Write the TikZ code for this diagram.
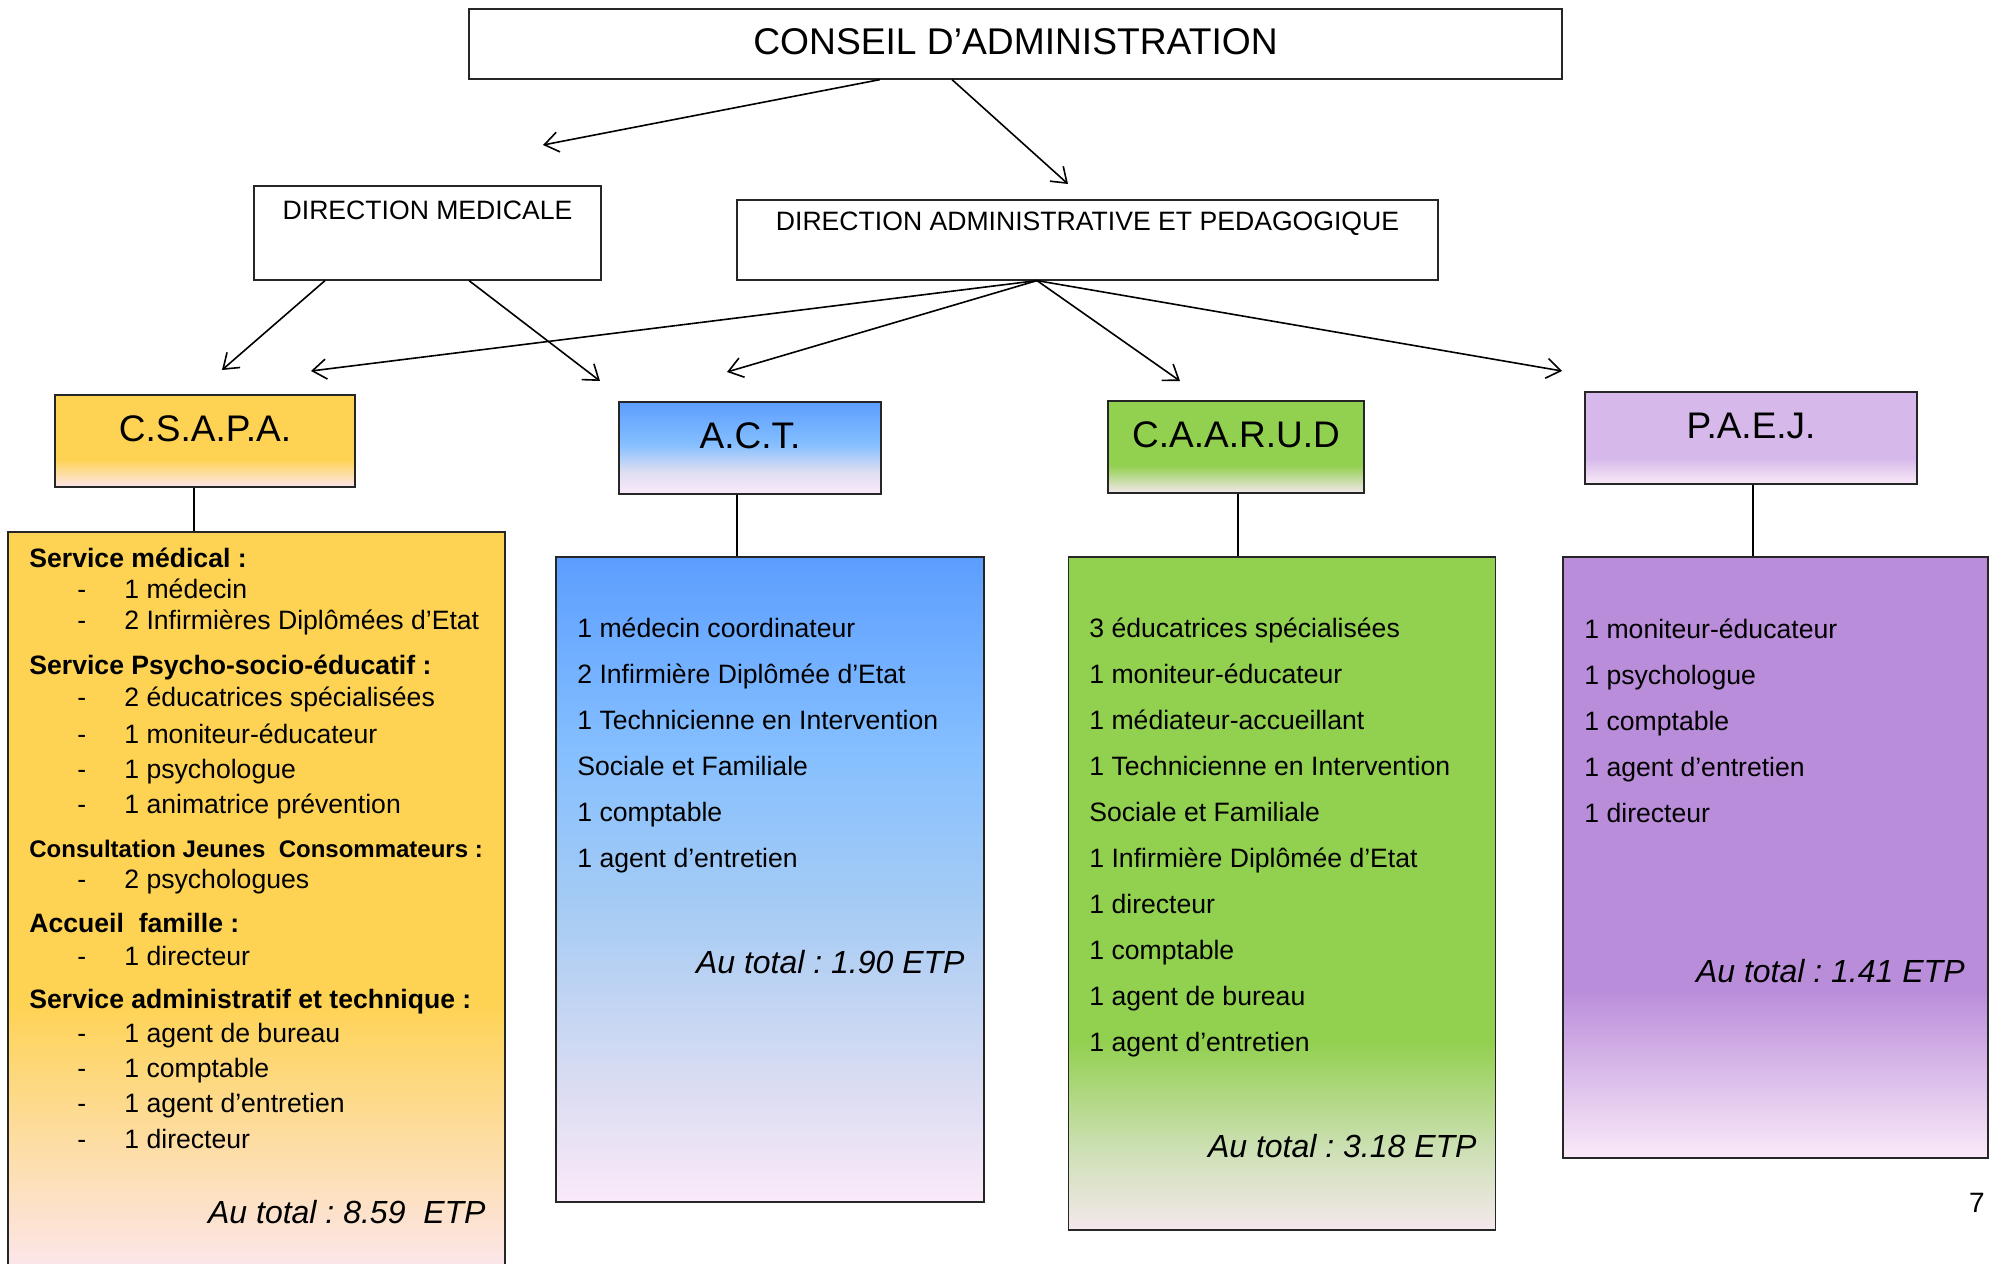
\documentclass[tikz,border=0pt]{standalone}
\usepackage{fontspec}
\setmainfont{Liberation Sans}
\usetikzlibrary{arrows.meta}
\frenchspacing

\definecolor{gold}{RGB}{254,211,84}
\definecolor{goldpink}{RGB}{252,230,236}
\definecolor{actblue}{RGB}{92,158,255}
\definecolor{actlight}{RGB}{133,191,255}
\definecolor{actmid}{RGB}{165,203,244}
\definecolor{actlav}{RGB}{222,222,242}
\definecolor{actpink}{RGB}{250,233,249}
\definecolor{caagreen}{RGB}{146,208,80}
\definecolor{caasoft}{RGB}{205,224,180}
\definecolor{caapale}{RGB}{244,232,236}
\definecolor{paejdark}{RGB}{186,141,219}
\definecolor{paejlight}{RGB}{214,185,234}
\definecolor{paejpale}{RGB}{250,234,248}

% fades (bottom = 25bp, top = 75bp)
\pgfdeclareverticalshading{csapahead}{100bp}{color(0bp)=(goldpink); color(25bp)=(goldpink); color(40bp)=(gold); color(100bp)=(gold)}
\pgfdeclareverticalshading{csapafade}{100bp}{color(0bp)=(goldpink); color(25bp)=(goldpink); color(43bp)=(gold); color(100bp)=(gold)}
\pgfdeclareverticalshading{acthead}{100bp}{color(0bp)=(actpink); color(25bp)=(actpink); color(37bp)=(actlav); color(52bp)=(actlight); color(75bp)=(actblue); color(100bp)=(actblue)}
\pgfdeclareverticalshading{actfade}{100bp}{color(0bp)=(actpink); color(25bp)=(actpink); color(33bp)=(actlav); color(48bp)=(actmid); color(60bp)=(actlight); color(75bp)=(actblue); color(100bp)=(actblue)}
\pgfdeclareverticalshading{caahead}{100bp}{color(0bp)=(caapale); color(25bp)=(caapale); color(40bp)=(caagreen); color(100bp)=(caagreen)}
\pgfdeclareverticalshading{caafade}{100bp}{color(0bp)=(caapale); color(25bp)=(caapale); color(31bp)=(caasoft); color(39bp)=(caagreen); color(100bp)=(caagreen)}
\pgfdeclareverticalshading{paejhead}{100bp}{color(0bp)=(paejpale); color(25bp)=(paejpale); color(39bp)=(paejlight); color(100bp)=(paejlight)}
\pgfdeclareverticalshading{paejfade}{100bp}{color(0bp)=(paejpale); color(25bp)=(paejpale); color(39bp)=(paejdark); color(100bp)=(paejdark)}

\newcommand{\dashitem}[1]{\hspace*{24pt}\makebox[23.5pt][l]{-}#1}

\begin{document}
\begin{tikzpicture}[x=0.5pt,y=-0.5pt,
    box/.style={draw=black!85, line width=0.6pt, inner sep=0pt},
    hdr/.style={box, shade, text height=23pt, text depth=23pt, font=\fontsize{18.5}{22}\selectfont},
    list/.style={inner sep=0pt, align=left, anchor=base west, font=\fontsize{13.3}{23}\selectfont},
    total/.style={inner sep=0pt, anchor=base east, font=\fontsize{16}{19}\selectfont\itshape},
    arr/.style={-{Straight Barb[length=7pt,width=10pt]}, line width=0.8pt},
    link/.style={line width=0.7pt}]

\useasboundingbox (0,0) rectangle (1993,1264);

% direction
\node[box, minimum width=546.5pt, text height=22.5pt, text depth=12.5pt, font=\fontsize{18.6}{22}\selectfont] (ca) at (1015.5,44) {CONSEIL D’ADMINISTRATION};
\node[box, minimum width=173.5pt, text height=16.5pt, text depth=30.5pt, font=\fontsize{13.3}{16}\selectfont] (dm) at (427.5,233) {DIRECTION MEDICALE};
\node[box, minimum width=350.5pt, text height=15pt, text depth=25pt, font=\fontsize{13.3}{16}\selectfont] (dap) at (1087.5,240) {DIRECTION ADMINISTRATIVE ET PEDAGOGIQUE};

\coordinate (toDM) at (543,145);
\coordinate (toDAP) at (1068,184);
\coordinate (dmCSAPA) at (222,370);
\coordinate (dmACT) at (600,381);
\coordinate (dapCSAPA) at (311,371);
\coordinate (dapACT) at (727,372);
\coordinate (dapCAARUD) at (1180,381);
\coordinate (dapPAEJ) at (1562,371);

\draw[arr] ([xshift=-67.75pt]ca.south) -- (toDM);
\draw[arr] ([xshift=-31.75pt]ca.south) -- (toDAP);
\draw[arr] ([xshift=-51.25pt]dm.south) -- (dmCSAPA);
\draw[arr] ([xshift=20.75pt]dm.south) -- (dmACT);
\draw[arr] ([xshift=-25.25pt]dap.south) -- (dapCSAPA);
\draw[arr] ([xshift=-25.25pt]dap.south) -- (dapACT);
\draw[arr] ([xshift=-25.25pt]dap.south) -- (dapCAARUD);
\draw[arr] ([xshift=-25.25pt]dap.south) -- (dapPAEJ);

% services
\node[hdr, minimum width=150pt, shading=csapahead] (csapa) at (205,441) {C.S.A.P.A.};
\node[hdr, minimum width=131pt, shading=acthead] (act) at (750,448) {A.C.T.};
\node[hdr, minimum width=128pt, shading=caahead] (caarud) at (1236,447) {C.A.A.R.U.D};
\node[hdr, minimum width=166pt, shading=paejhead] (paej) at (1751,438) {P.A.E.J.};

\node[box, shade, shading=csapafade, minimum width=248.5pt, minimum height=369pt] (csapabody) at (256.5,901) {};
\node[box, shade, shading=actfade, minimum width=214pt, minimum height=322.5pt] (actbody) at (770,879.5) {};
\node[box, shade, shading=caafade, minimum width=213.5pt, minimum height=336.5pt] (caarudbody) at (1282,893.5) {};
\node[box, shade, shading=paejfade, minimum width=212.5pt, minimum height=300.5pt] (paejbody) at (1775.5,857.5) {};

\draw[link] ([xshift=-5.5pt]csapa.south) -- ([xshift=-5.5pt]csapa.south |- csapabody.north);
\draw[link] ([xshift=-6.5pt]act.south) -- ([xshift=-6.5pt]act.south |- actbody.north);
\draw[link] ([xshift=1pt]caarud.south) -- ([xshift=1pt]caarud.south |- caarudbody.north);
\draw[link] ([xshift=1pt]paej.south) -- ([xshift=1pt]paej.south |- paejbody.north);

% staff (base = last line)
\node[list, font=\fontsize{13.3}{15.5}\selectfont] (csapatext) at (29,1148) {%
\textbf{Service médical :}\\
\dashitem{1 médecin}\\
\dashitem{2 Infirmières Diplômées d’Etat}\\[7pt]
\textbf{Service Psycho-socio-éducatif :}\\[0.5pt]
\dashitem{2 éducatrices spécialisées}\\[3pt]
\dashitem{1 moniteur-éducateur}\\[2pt]
\dashitem{1 psychologue}\\[2pt]
\dashitem{1 animatrice prévention}\\[6.5pt]
{\fontsize{12}{15.5}\selectfont\bfseries Consultation Jeunes~ Consommateurs :}\\
\dashitem{2 psychologues}\\[6.5pt]
\textbf{Accueil~ famille :}\\[1pt]
\dashitem{1 directeur}\\[6pt]
\textbf{Service administratif et technique :}\\[1.5pt]
\dashitem{1 agent de bureau}\\[2pt]
\dashitem{1 comptable}\\[2pt]
\dashitem{1 agent d’entretien}\\[2.5pt]
\dashitem{1 directeur}};
\node[total] (csapatotal) at (486,1223) {Au total : 8.59~ ETP};

\node[list] (acttext) at (577,867) {1 médecin coordinateur\\
2 Infirmière Diplômée d’Etat\\
1 Technicienne en Intervention\\
Sociale et Familiale\\
1 comptable\\
1 agent d’entretien};
\node[total] (acttotal) at (965,973) {Au total : 1.90 ETP};

\node[list] (caarudtext) at (1089,1051) {3 éducatrices spécialisées\\
1 moniteur-éducateur\\
1 médiateur-accueillant\\
1 Technicienne en Intervention\\
Sociale et Familiale\\
1 Infirmière Diplômée d’Etat\\
1 directeur\\
1 comptable\\
1 agent de bureau\\
1 agent d’entretien};
\node[total] (caarudtotal) at (1477,1157) {Au total : 3.18 ETP};

\node[list] (paejtext) at (1584,822) {1 moniteur-éducateur\\
1 psychologue\\
1 comptable\\
1 agent d’entretien\\
1 directeur};
\node[total] (paejtotal) at (1965,982) {Au total : 1.41 ETP};

\node[inner sep=0pt, anchor=base east, font=\fontsize{14}{17}\selectfont] (pagenum) at (1985,1212) {7};
\end{tikzpicture}
\end{document}
